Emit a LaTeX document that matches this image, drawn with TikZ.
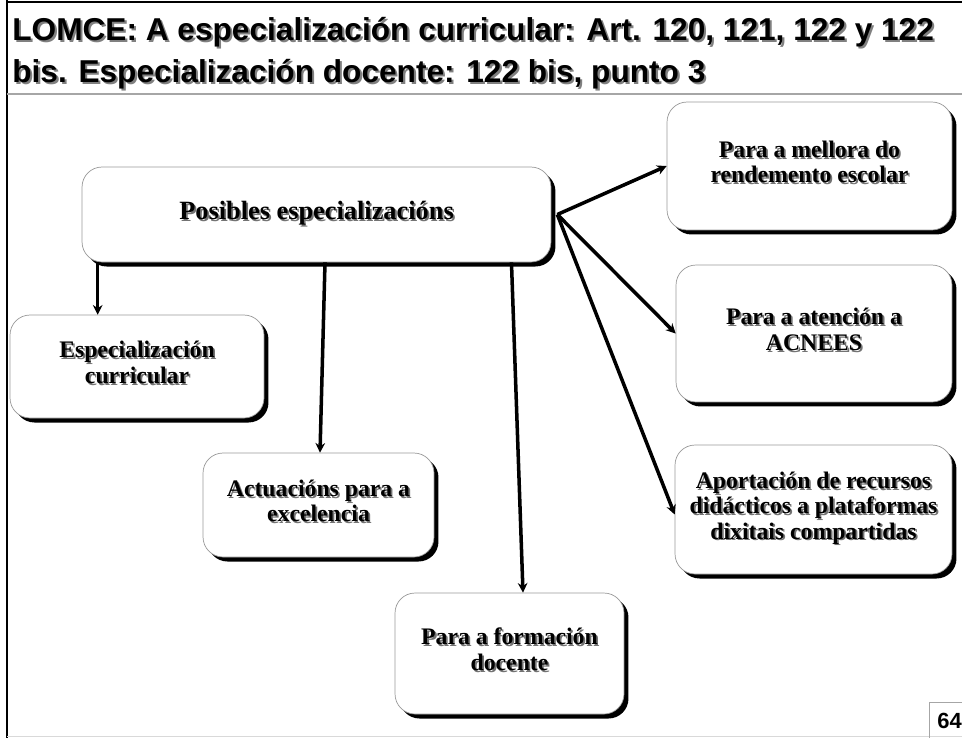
\documentclass[tikz,border=0pt]{standalone}
\usepackage{fontspec}
\setmainfont{Liberation Serif}
\newfontfamily\titlefont{Liberation Sans}
\usepackage{xcolor}
\usetikzlibrary{shadows,arrows.meta}
\tikzstyle{arrow} = [line width=2pt,-{Stealth[length=5.5pt,width=5.5pt]}]
\tikzstyle{box} = [draw=gray!80, line width=0.4pt, fill=white, rounded corners=0.4cm, inner sep=2pt,
  font=\bfseries\fontsize{13.5}{14.5}\selectfont,
  drop shadow={shadow xshift=0.09cm, shadow yshift=-0.09cm, fill=black, opacity=1}]
% text with a grey shadow, one or more lines
\newcommand{\shtxt}[1]{\makebox[0pt][l]{\kern1pt\raisebox{-1pt}{\color{black!55}\begin{tabular}{@{}c@{}}#1\end{tabular}}}\begin{tabular}{@{}c@{}}#1\end{tabular}}
\newcommand{\shline}[1]{\makebox[0pt][l]{\kern1.2pt\raisebox{-1.2pt}{\color{black!50}#1}}#1}

\begin{document}
\begin{tikzpicture}[x=0.02cm, y=-0.02cm]
  \useasboundingbox (0,0) rectangle (962,738);
  \fill[white] (0,0) rectangle (962,738);
  % slide frame
  \draw[line width=1.2pt] (7,2) -- (962,2);
  \draw[line width=1.2pt] (7,0) -- (7,738);
  \draw[gray!70, line width=0.6pt] (7,94) -- (962,94);
  \draw[gray!30, line width=0.8pt] (7,736.5) -- (962,736.5);
  \draw[gray!70, line width=0.5pt] (929,738) -- (929,702) -- (962,702);
  \node[anchor=base west, inner sep=0pt, font=\titlefont\bfseries\fontsize{12.5}{14}\selectfont] (pnum) at (937,728) {64};

  % title
  \node[anchor=base west, inner sep=0pt, font=\titlefont\bfseries\fontsize{18}{24}\selectfont] (title1) at (12,40) {\shline{LOMCE: A especialización curricular: Art. 120, 121, 122 y 122}};
  \node[anchor=base west, inner sep=0pt, font=\titlefont\bfseries\fontsize{18}{24}\selectfont] (title2) at (12,82) {\shline{bis. Especialización docente: 122 bis, punto 3}};

  % boxes
  \node[box, minimum width=9.38cm, minimum height=1.9cm, font=\bfseries\fontsize{15}{17}\selectfont] (posibles) at (316.5,214.5) {\shtxt{Posibles especializacións}};
  \node[box, minimum width=5.7cm, minimum height=2.56cm] (mellora) at (809.5,166) {\shtxt{Para a mellora do\\rendemento escolar}};
  \node[box, minimum width=5.52cm, minimum height=2.74cm] (acnees) at (814,333.5) {\shtxt{Para a atención a\\ACNEES}};
  \node[box, minimum width=5.54cm, minimum height=2.58cm] (aport) at (813.5,509.5) {\shtxt{Aportación de recursos\\didácticos a plataformas\\dixitais compartidas}};
  \node[box, minimum width=5.08cm, minimum height=2.06cm] (curricular) at (137,366.5) {\shtxt{Especialización\\curricular}};
  \node[box, minimum width=4.62cm, minimum height=2.08cm] (actuacions) at (318.5,505) {\shtxt{Actuacións para a\\excelencia}};
  \node[box, minimum width=4.58cm, minimum height=2.42cm] (formacion) at (509.5,653.5) {\shtxt{Para a formación\\docente}};

  % connectors
  \coordinate (hub) at ([xshift=0.12cm]posibles.east);
  \draw[arrow] ([xshift=0.32cm]posibles.south west) -- ([xshift=0.32cm]posibles.south west |- curricular.north);
  \draw[arrow] ([xshift=0.17cm]posibles.south) -- ([xshift=0.03cm]actuacions.north);
  \draw[arrow] ([xshift=3.9cm]posibles.south) -- ([xshift=0.27cm]formacion.north);
  \draw[arrow] (hub) -- (mellora.west);
  \draw[arrow] (hub) -- (acnees.west);
  \draw[arrow] (hub) -- ([yshift=-0.1cm]aport.west);
\end{tikzpicture}
\end{document}
